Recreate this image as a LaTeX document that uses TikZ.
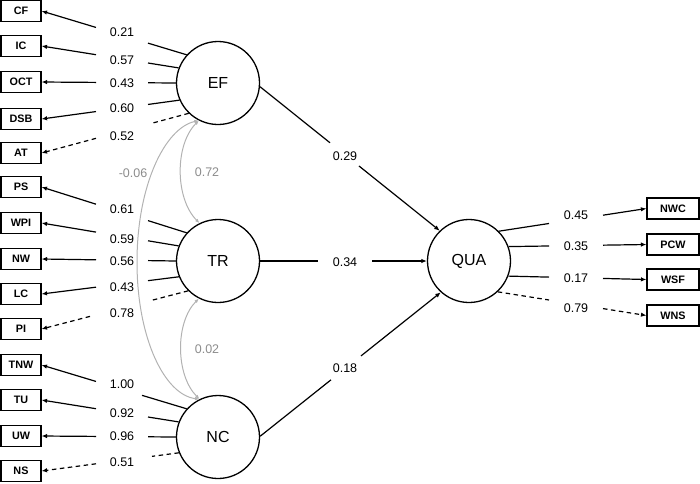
\documentclass[tikz,border=0pt]{standalone}
\usepackage{fontspec}
\setmainfont{Liberation Sans}
\usetikzlibrary{arrows.meta,calc}
% #1 from, #2 to, #3 x where first piece stops, #4 x where second piece starts, #5 style
\newcommand\gapline[5]{%
  \draw[ln,#5] let \p1=(#1), \p2=(#2) in
    (\p1) -- ($(\p1)!{(#3-\x1)/(\x2-\x1)*veclen(\x2-\x1,\y2-\y1)}!(\p2)$);
  \draw[ln,tip,#5] let \p1=(#1), \p2=(#2) in
    ($(\p1)!{(#4-\x1)/(\x2-\x1)*veclen(\x2-\x1,\y2-\y1)}!(\p2)$) -- (\p2);
}
\begin{document}
\begin{tikzpicture}[x=1pt,y=1pt,
  lat/.style={circle,draw,line width=1.3pt,minimum size=83pt,inner sep=0pt,font=\fontsize{16}{18}\selectfont},
  obs/.style={draw,line width=1.1pt,minimum width=40pt,minimum height=21pt,inner sep=0pt,font=\bfseries\fontsize{10.8}{12}\selectfont},
  obsr/.style={obs,minimum width=52pt},
  lbl/.style={font=\fontsize{12.5}{14}\selectfont,inner sep=0pt},
  glbl/.style={lbl,text=black!45},
  tip/.style={-{Latex[length=5.5pt,width=4.5pt]}},
  ln/.style={line width=1.2pt},
  dsh/.style={dash pattern=on 4.5pt off 3.5pt},
  corr/.style={draw=black!30,line width=1pt,{Latex[length=4.5pt,width=3.5pt]}-{Latex[length=4.5pt,width=3.5pt]}},
]
\useasboundingbox (0,0) rectangle (700,-483);

% latent variables
\node[lat] (EF) at (218,-83) {EF};
\node[lat] (TR) at (218,-261) {TR};
\node[lat] (NC) at (218,-437) {NC};
\node[lat] (QUA) at (469,-261) {QUA};

% indicators (left)
\node[obs] (CF)  at (21,-11)  {CF};
\node[obs] (IC)  at (21,-46)  {IC};
\node[obs] (OCT) at (21,-82)  {OCT};
\node[obs] (DSB) at (21,-119) {DSB};
\node[obs] (AT)  at (21,-153) {AT};
\node[obs] (PS)  at (21,-187) {PS};
\node[obs] (WPI) at (21,-223) {WPI};
\node[obs] (NW)  at (21,-259) {NW};
\node[obs] (LC)  at (21,-294) {LC};
\node[obs] (PI)  at (21,-329) {PI};
\node[obs] (TNW) at (21,-365) {TNW};
\node[obs] (TU)  at (21,-400) {TU};
\node[obs] (UW)  at (21,-436) {UW};
\node[obs] (NS)  at (21,-471) {NS};

% indicators (right)
\node[obsr] (NWC) at (673,-208.5) {NWC};
\node[obsr] (PCW) at (673,-244.5) {PCW};
\node[obsr] (WSF) at (673,-279.5) {WSF};
\node[obsr] (WNS) at (673,-315.5) {WNS};

% loadings EF
\gapline{EF.138}{CF.east}{148}{96}{}
\gapline{EF.159}{IC.east}{148}{96}{}
\gapline{EF.180}{OCT.east}{148}{96}{}
\gapline{EF.204}{DSB.east}{148}{96}{}
\gapline{EF.226}{AT.east}{152}{96}{dsh}
% loadings TR
\gapline{TR.138}{PS.east}{148}{96}{}
\gapline{TR.159}{WPI.east}{148}{96}{}
\gapline{TR.180}{NW.east}{148}{96}{}
\gapline{TR.202}{LC.east}{148}{96}{}
\gapline{TR.225}{PI.east}{152}{90}{dsh}
% loadings NC
\gapline{NC.138}{TNW.east}{142}{96}{}
\gapline{NC.159}{TU.east}{148}{96}{}
\gapline{NC.180}{UW.east}{148}{96}{}
\gapline{NC.202}{NS.east}{152}{96}{dsh}
% loadings QUA
\gapline{QUA.45}{NWC.west}{549}{603}{}
\gapline{QUA.20}{PCW.west}{549}{603}{}
\gapline{QUA.-21}{WSF.west}{549}{603}{}
\gapline{QUA.-47}{WNS.west}{549}{603}{dsh}

% structural paths
\gapline{EF.-5}{QUA.134}{330}{359}{}
\gapline{TR.east}{QUA.west}{318}{372}{}
\gapline{NC.1}{QUA.228}{331}{361}{}

% correlations
\draw[corr] (EF.243) to[out=225,in=135,looseness=0.86] (TR.116);
\draw[corr] (TR.243) to[out=225,in=135,looseness=0.86] (NC.116);
\draw[corr] (EF.243) .. controls (165,-128) and (137,-185) .. (137,-262)
                     .. controls (137,-339) and (165,-395) .. (NC.116);

% labels
\node[lbl] (l1)  at (122,-32)  {0.21};
\node[lbl] (l2)  at (122,-60)  {0.57};
\node[lbl] (l3)  at (122,-83)  {0.43};
\node[lbl] (l4)  at (122,-108) {0.60};
\node[lbl] (l5)  at (122,-136) {0.52};
\node[lbl] (l6)  at (122,-209) {0.61};
\node[lbl] (l7)  at (122,-239) {0.59};
\node[lbl] (l8)  at (122,-261) {0.56};
\node[lbl] (l9)  at (122,-287) {0.43};
\node[lbl] (l10) at (122,-313) {0.78};
\node[lbl] (l11) at (122,-384) {1.00};
\node[lbl] (l12) at (122,-413) {0.92};
\node[lbl] (l13) at (122,-436) {0.96};
\node[lbl] (l14) at (122,-462) {0.51};
\node[lbl] (r1)  at (576,-215) {0.45};
\node[lbl] (r2)  at (576,-246) {0.35};
\node[lbl] (r3)  at (576,-278) {0.17};
\node[lbl] (r4)  at (576,-308) {0.79};
\node[lbl] (s1)  at (345,-156) {0.29};
\node[lbl] (s2)  at (345,-262) {0.34};
\node[lbl] (s3)  at (345,-368) {0.18};
\node[glbl] (c1) at (207,-172) {0.72};
\node[glbl] (c2) at (207,-349) {0.02};
\node[glbl] (c3) at (133,-173) {-0.06};
\end{tikzpicture}
\end{document}
